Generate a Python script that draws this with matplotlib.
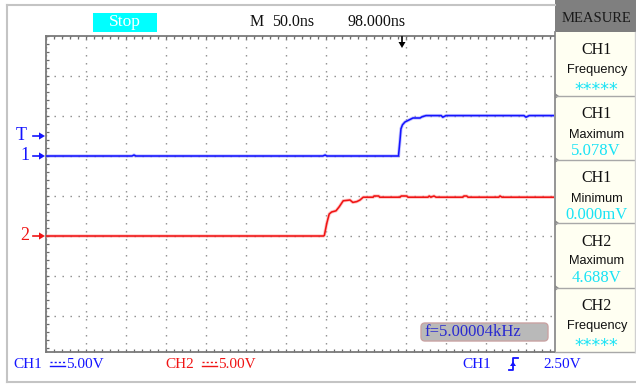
import matplotlib
matplotlib.use("Agg")
import matplotlib.pyplot as plt
import matplotlib.transforms as mtransforms
from matplotlib.patches import Rectangle, FancyBboxPatch, Polygon
from matplotlib.ticker import MultipleLocator

# ---------------- data ----------------
time_per_div_ns = 50.0
volts_per_div = 5.0
screen_time_ns = 635.0
screen_v_top = 15.0
screen_v_bottom = -24.5
trigger_time_ns = 445.0
trigger_level_v = 2.5
ch1_offset_v = 0.0
ch2_offset_v = -10.0

ch1_t = [0, 107.5, 110, 112.5, 346, 349, 351, 440.6, 442.5, 443.7, 445.6, 448.7,
         453.7, 458.7, 467.5, 470, 475, 494, 496, 500, 597.5, 600, 604, 635]
ch1_v = [0, 0, 0.12, 0, 0, 0.12, 0, 0, 2.0, 3.4, 3.9, 4.25,
         4.5, 4.75, 4.75, 4.9, 5.05, 5.05, 4.85, 5.05, 5.05, 4.85, 5.05, 5.05]

ch2_t = [0, 347, 348, 351, 354, 357, 362.5, 366.5, 369.5, 371.5, 380, 383.5,
         388.5, 392.5, 396.5, 409, 410, 416, 417, 442.5, 444, 451, 452.5, 477.5,
         479, 481, 485, 487.5, 521, 522.5, 526, 527.5, 566, 567.5, 570, 635]
ch2_v = [0, 0, 0.1, 1.6, 2.75, 3.0, 3.15, 3.65, 4.1, 4.4, 4.5, 4.2,
         4.3, 4.5, 4.85, 4.85, 5.0, 5.0, 4.85, 4.85, 5.0, 5.0, 4.85, 4.85,
         5.0, 4.85, 5.0, 4.85, 4.85, 5.0, 5.0, 4.85, 4.85, 5.0, 4.85, 4.85]

header_left = ["Stop", "M", "50.0ns", "98.000ns"]
measure_titles = ["CH1", "CH1", "CH1", "CH2", "CH2"]
measure_names = ["Frequency", "Maximum", "Minimum", "Maximum", "Frequency"]
measure_values = ["*****", "5.078V", "0.000mV", "4.688V", "*****"]
freq_readout = "f=5.00004kHz"
ch1_scale = "5.00V"
ch2_scale = "5.00V"
trig_level_text = "2.50V"

# ---------------- figure ----------------
W, H = 636, 384
SERIF = "Liberation Serif"
SANS = "Liberation Sans"
BLUE = "#1414ff"
RED = "#f01414"
CYAN = "#19e3f5"

fig = plt.figure(figsize=(W / 100, H / 100), dpi=100)
fig.patch.set_facecolor("white")

bg = fig.add_axes([0, 0, 1, 1], zorder=0)
bg.set_xlim(0, W); bg.set_ylim(H, 0); bg.axis("off")

L, R, T, B = 46, 554, 36, 352
sc = fig.add_axes([L / W, 1 - B / H, (R - L) / W, (B - T) / H], zorder=1)
sc.set_xlim(0, screen_time_ns)
sc.set_ylim(screen_v_bottom, screen_v_top)
sc.set_facecolor("white")
sc.xaxis.set_major_locator(MultipleLocator(time_per_div_ns))
sc.xaxis.set_minor_locator(MultipleLocator(time_per_div_ns / 5))
sc.yaxis.set_major_locator(MultipleLocator(volts_per_div))
sc.yaxis.set_minor_locator(MultipleLocator(volts_per_div / 5))
sc.tick_params(which="both", direction="in", length=2.5, width=0.9, color="#6a6a6a",
               top=True, bottom=True, left=True, right=False,
               labelbottom=False, labelleft=False)
sc.grid(True, which="major", color="#8a8a8a", lw=1.0, linestyle=(0, (1, 4.76)))
for s in ["left", "top", "bottom"]:
    sc.spines[s].set_color("#7a7a7a")
    sc.spines[s].set_linewidth(1.3)
sc.spines["right"].set_visible(False)

# waveforms
ch1_y = [v + ch1_offset_v for v in ch1_v]
ch2_y = [v + ch2_offset_v for v in ch2_v]
sc.plot(ch1_t, ch1_y, color="#8c8cff", lw=2.4, alpha=0.5, zorder=3)
sc.plot(ch1_t, ch1_y, color=BLUE, lw=1.15, zorder=4)
sc.plot(ch2_t, ch2_y, color="#ff9090", lw=2.4, alpha=0.5, zorder=3)
sc.plot(ch2_t, ch2_y, color=RED, lw=1.15, zorder=4)

# overlay axes (pixel coords) on top of the screen
ov = fig.add_axes([0, 0, 1, 1], zorder=2)
ov.set_xlim(0, W); ov.set_ylim(H, 0); ov.axis("off"); ov.patch.set_alpha(0)

# ---- outer frame ----
bg.plot([7, 7], [5, 382], color="#c4c4c4", lw=1.5)
bg.plot([7, 555], [5, 5], color="#c4c4c4", lw=1.5)
bg.plot([7, 636], [382, 382], color="#c4c4c4", lw=1.5)

# ---- header ----
bg.add_patch(Rectangle((93, 13), 64, 19, facecolor="#00ffff", edgecolor="none"))
bg.text(125, 22.5, header_left[0], color="white", fontsize=12.5, family=SERIF,
        ha="center", va="center")
bg.text(250, 22, header_left[1], color="#101010", fontsize=11.5, family=SERIF,
        ha="left", va="center")
bg.text(272, 22, header_left[2], color="#101010", fontsize=11.5, family=SERIF,
        ha="left", va="center")
bg.text(348, 22, header_left[3], color="#101010", fontsize=11.5, family=SERIF,
        ha="left", va="center")

# trigger position marker
tt = mtransforms.blended_transform_factory(sc.transData, ov.transData)
ov.plot([trigger_time_ns, trigger_time_ns], [37, 44], color="black", lw=1.2,
        transform=tt, clip_on=False)
tx = sc.transData.transform((trigger_time_ns, 0))[0]
ov.add_patch(Polygon([[tx - 3.5, 42], [tx + 3.5, 42], [tx, 48]], closed=True,
                     facecolor="black", edgecolor="none",
                     transform=mtransforms.blended_transform_factory(
                         mtransforms.IdentityTransform(), ov.transData)))

# ---- left channel markers ----
lab = mtransforms.blended_transform_factory(bg.transData, sc.transData)

def marker(text, yv, color, xtext):
    bg.text(xtext, yv, text, transform=lab, color=color, fontsize=13,
            family=SERIF, ha="center", va="center")
    bg.plot([33, 40], [yv, yv], transform=lab, color=color, lw=1.2)
    bg.add_patch(Polygon([[39, yv + 0.45], [39, yv - 0.45], [45, yv]], closed=True,
                         transform=lab, facecolor=color, edgecolor="none"))

marker("T", trigger_level_v + ch1_offset_v, BLUE, 21.5)
marker("1", ch1_offset_v, BLUE, 24.5)
marker("2", ch2_offset_v, RED, 25)

# ---- frequency readout ----
ov.add_patch(FancyBboxPatch((421, 323), 127, 18, boxstyle="round,pad=0,rounding_size=4",
                            facecolor="#b9b9b9", edgecolor="#c9a3a3", lw=1.0))
ov.text(424, 332.5, freq_readout, color="#2a2ad0", fontsize=12, family=SERIF,
        ha="left", va="center")

# ---- MEASURE panel ----
bg.add_patch(Rectangle((555, 0), 81, 32, facecolor="#7f7f7f", edgecolor="none"))
bg.text(596, 18, "MEASURE", color="#1a1a1a", fontsize=10.5, family=SERIF,
        ha="center", va="center")
tops = [32, 96, 160, 223, 288]
bottoms = tops[1:] + [352]
for i, (t0, t1) in enumerate(zip(tops, bottoms)):
    bg.add_patch(Rectangle((556, t0), 79, t1 - t0, facecolor="#fffff2",
                           edgecolor="none"))
    if i > 0:
        bg.plot([555, 636], [t0, t0], color="#a8a8a8", lw=1.0)
        bg.add_patch(Polygon([[555, t0 - 3], [555, t0 + 3], [559, t0]], closed=True,
                             facecolor="#8a8a8a", edgecolor="none"))
    bg.text(596, t0 + 18.5, measure_titles[i], color="#101010", fontsize=11.5,
            family=SERIF, ha="center", va="center")
    bg.text(597, t0 + 38.5, measure_names[i], color="#101010", fontsize=9.2,
            family=SANS, ha="center", va="center")
    if measure_values[i].startswith("*"):
        bg.text(596, t0 + 58, measure_values[i], color=CYAN, fontsize=12.5,
                family="DejaVu Sans", ha="center", va="center")
    else:
        bg.text(596, t0 + 55, measure_values[i], color=CYAN, fontsize=12,
                family=SERIF, ha="center", va="center")
bg.plot([555, 555], [32, 352], color="#8c8c8c", lw=1.3)
bg.plot([555, 636], [352, 352], color="#a8a8a8", lw=1.0)
bg.plot([635, 635], [32, 352], color="#d0d0d0", lw=1.0)

# ---- bottom status line ----
def dc_symbol(x0, color):
    bg.plot([x0, x0 + 15], [366, 366], color=color, lw=1.0)
    bg.plot([x0, x0 + 15], [362, 362], color=color, lw=1.0, linestyle=(0, (1.5, 1.5)))

bg.text(13, 364, "CH1", color=BLUE, fontsize=11, family=SERIF, ha="left", va="center")
dc_symbol(50, BLUE)
bg.text(66, 364, ch1_scale, color=BLUE, fontsize=11, family=SERIF, ha="left", va="center")
bg.text(165, 364, "CH2", color=RED, fontsize=11, family=SERIF, ha="left", va="center")
dc_symbol(202, RED)
bg.text(218, 364, ch2_scale, color=RED, fontsize=11, family=SERIF, ha="left", va="center")

bg.text(462, 364, "CH1", color=BLUE, fontsize=11, family=SERIF, ha="left", va="center")
# rising edge trigger icon
bg.plot([509, 513, 513, 518], [370, 370, 358, 358], color=BLUE, lw=1.3)
bg.add_patch(Polygon([[510, 366], [516, 366], [513, 361.5]], closed=True,
                     facecolor=BLUE, edgecolor="none"))
bg.text(543, 364, trig_level_text, color=BLUE, fontsize=11, family=SERIF,
        ha="left", va="center")

fig.savefig("out.png", dpi=100)
